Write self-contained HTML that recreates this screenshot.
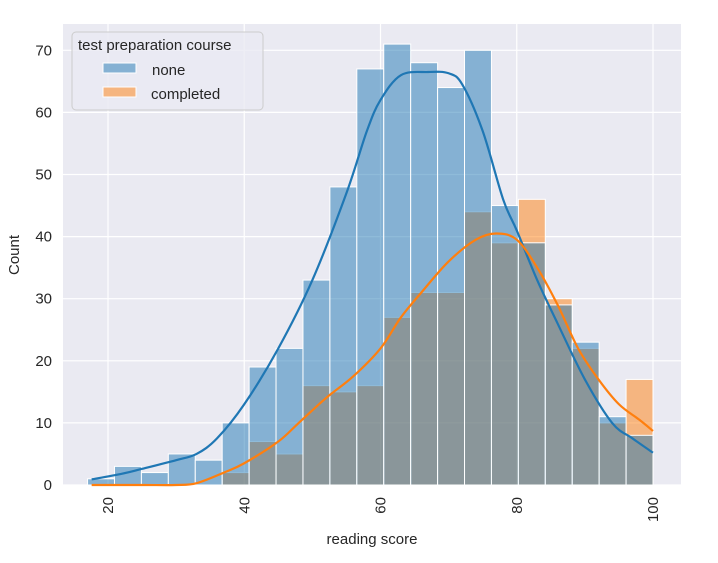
<!DOCTYPE html>
<html><head><meta charset="utf-8"><style>
body{margin:0;background:#fff;font-family:"Liberation Sans",sans-serif;}
text{font-family:"Liberation Sans",sans-serif;fill:#262626;}
</style></head><body>
<svg id="chart" width="718" height="558" xmlns="http://www.w3.org/2000/svg">
<rect x="63" y="24" width="618" height="461" fill="#eaeaf2"/>
<g id="grid"></g><g id="bars"></g><g id="curves"></g><g id="ticks"></g>
<text x="372" y="544" font-size="15" text-anchor="middle">reading score</text>
<text x="19" y="255" font-size="15" text-anchor="middle" transform="rotate(-90 19 255)">Count</text>
<g>
<rect x="72" y="32" width="191" height="78" rx="4" fill="#eaeaf2" fill-opacity="0.8" stroke="#cccccc"/>
<text x="78" y="50" font-size="15">test preparation course</text>
<rect x="103" y="63" width="33" height="10" fill="#1f77b4" fill-opacity="0.5" stroke="#fff"/>
<text x="152" y="75" font-size="15">none</text>
<rect x="103" y="87" width="33" height="10" fill="#ff7f0e" fill-opacity="0.5" stroke="#fff"/>
<text x="151" y="99" font-size="15">completed</text>
</g>
</svg>
<script>
const binStart = 17, binEnd = 100, binCount = 21;
const noneCounts = [1,3,2,5,4,10,19,22,33,48,67,71,68,64,70,45,39,29,23,11,8];
const completedCounts = [0,0,0,0,0,2,7,5,16,15,16,27,31,31,44,39,46,30,22,10,17];
const noneKdeX = [17.6,22,25,30,33,36,40,45,50,55,58,60,63,67,70,72,75,78,80,83,86,90,94,97,100];
const noneKdeY = [0.9,1.8,2.6,4,5,7.5,13,22,33,47,57,62,66,66.5,66.3,64.5,57,46,41,33,26,17,10,7.5,5.2];
const compKdeX = [17.6,25,30,33,37,40,45,48,52,56,60,63,66,70,74,77,80,83,86,89,92,95,98,100];
const compKdeY = [0,0,0,0.3,2,3.5,7,10,14,17.5,22,27,31,36,39.5,40.5,39.5,35,29,22,17,13,10.5,8.7];
const xTicks = [20,40,60,80,100];
const yTicks = [0,10,20,30,40,50,60,70];

const NS="http://www.w3.org/2000/svg";
const X0=63,X1=681,Y0=485,Y1=24;
const xs=v=>108+(v-20)*6.8125;
const ys=v=>485-v*6.21;
function mk(tag,attrs,parent){const e=document.createElementNS(NS,tag);for(const k in attrs)e.setAttribute(k,attrs[k]);document.getElementById(parent).appendChild(e);return e;}
xTicks.forEach(t=>{
  const l=mk('line',{x1:xs(t),x2:xs(t),y1:Y1,y2:Y0,stroke:'#fff','stroke-width':1.2},'grid');
  
  
  const tx=mk('text',{x:xs(t)+5,y:497,'font-size':15,'text-anchor':'end',transform:`rotate(-90 ${xs(t)+5} 497)`},'ticks');
  
  
  tx.textContent=t;
});
yTicks.forEach(t=>{
  const l=mk('line',{x1:X0,x2:X1,y1:ys(t),y2:ys(t),stroke:'#fff','stroke-width':1.2},'grid');
  
  
  const tx=mk('text',{x:52,y:ys(t)+5,'font-size':15,'text-anchor':'end'},'ticks');
  
  
  tx.textContent=t;
});
const bw=(binEnd-binStart)/binCount;
function drawBars(counts,color,name){
  counts.forEach((c,i)=>{
    if(c<=0)return;
    const a=binStart+i*bw;
    const r=mk('rect',{x:xs(a),y:ys(c),width:xs(a+bw)-xs(a),height:ys(0)-ys(c),fill:color,'fill-opacity':0.5,stroke:'#fff','stroke-width':1},'bars');
    
    
  });
}
drawBars(completedCounts,'#ff7f0e','completed');
drawBars(noneCounts,'#1f77b4','none');
function curve(xa,ya,color,name){
  const p=xa.map((x,i)=>[xs(x),ys(ya[i])]);
  let d=`M${p[0][0]},${p[0][1]}`;
  for(let i=0;i<p.length-1;i++){
    const p0=p[i-1]||p[i],p1=p[i],p2=p[i+1],p3=p[i+2]||p2;
    const c1=[p1[0]+(p2[0]-p0[0])/6,p1[1]+(p2[1]-p0[1])/6];
    const c2=[p2[0]-(p3[0]-p1[0])/6,p2[1]-(p3[1]-p1[1])/6];
    d+=` C${c1[0]},${c1[1]} ${c2[0]},${c2[1]} ${p2[0]},${p2[1]}`;
  }
  const e=mk('path',{d:d,fill:'none',stroke:color,'stroke-width':2.2},'curves');
  
  
}
curve(noneKdeX,noneKdeY,'#1f77b4','none');
curve(compKdeX,compKdeY,'#ff7f0e','completed');
</script>
</body></html>
